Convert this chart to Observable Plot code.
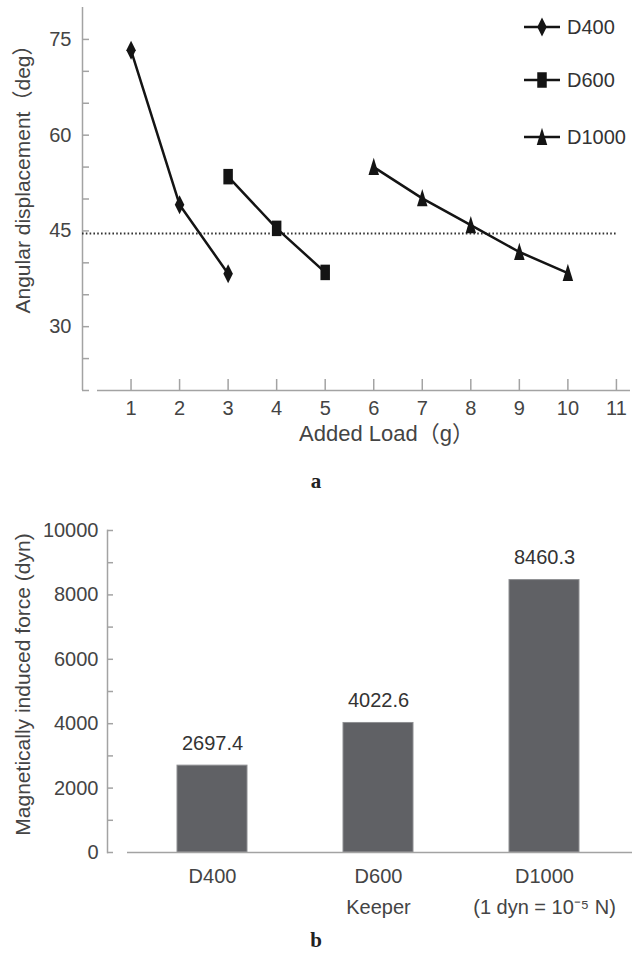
<!DOCTYPE html>
<html>
<head>
<meta charset="utf-8">
<script src="https://cdn.jsdelivr.net/npm/d3@7"></script>
<script src="https://cdn.jsdelivr.net/npm/@observablehq/plot@0.6"></script>
<style>
  html, body { margin: 0; padding: 0; background: #fff; }
  #page { position: relative; width: 632px; height: 961px; background: #fff; overflow: hidden; }
  .cap { position: absolute; left: 0; width: 632px; text-align: center; font: bold 21px "Liberation Serif", "Times New Roman", serif; color: #222; line-height: 22px; }
</style>
</head>
<body>
<div id="page">
  <div id="topChart" style="position:absolute;left:0;top:0"></div>
  <div id="legend" style="position:absolute;left:0;top:0"></div>
  <div class="cap" style="top:470px">a</div>
  <div id="bottomChart" style="position:absolute;left:0;top:500px"></div>
  <div class="cap" style="top:929px">b</div>
</div>
<script>
// ---------- data: panel a ----------
const seriesNames = ["D400", "D600", "D1000"];
const loadsD400 = [1, 2, 3];
const dispD400 = [73.3, 49.1, 38.3];
const loadsD600 = [3, 4, 5];
const dispD600 = [53.5, 45.4, 38.5];
const loadsD1000 = [6, 7, 8, 9, 10];
const dispD1000 = [55.0, 50.1, 45.9, 41.7, 38.4];
const thresholdDeg = 44.6;
const thresholdSpan = [0, 11];
const loadTicks = [1, 2, 3, 4, 5, 6, 7, 8, 9, 10, 11];
const dispTickLabels = [30, 45, 60, 75];
const dispTickMarks = [20, 25, 30, 35, 40, 45, 50, 55, 60, 65, 70, 75];

// ---------- data: panel b ----------
const magnets = ["D400", "D600", "D1000"];
const forces = [2697.4, 4022.6, 8460.3];
const forceLabels = ["2697.4", "4022.6", "8460.3"];
const magnetSublabels = ["", "Keeper", "(1 dyn = 10\u207B\u2075 N)"];
const forceTickLabels = [0, 2000, 4000, 6000, 8000, 10000];
const forceTickMarks = [0, 1000, 2000, 3000, 4000, 5000, 6000, 7000, 8000, 9000, 10000];

// ---------- styling ----------
const FONT = '"Liberation Sans", Arial, "Noto Sans CJK SC", sans-serif';
const AXIS = "#a3a3a3";
const TEXT = "#444";
const INK = "#141414";

// tall marker shapes
const tallDiamond = { draw(ctx, size) { const r = Math.sqrt(size / Math.PI);
  ctx.moveTo(0, -1.9 * r); ctx.lineTo(0.95 * r, 0); ctx.lineTo(0, 1.9 * r); ctx.lineTo(-0.95 * r, 0); ctx.closePath(); } };
const tallSquare = { draw(ctx, size) { const r = Math.sqrt(size / Math.PI);
  ctx.rect(-0.95 * r, -1.55 * r, 1.9 * r, 3.1 * r); } };
const tallTriangle = { draw(ctx, size) { const r = Math.sqrt(size / Math.PI);
  ctx.moveTo(0, -1.85 * r); ctx.lineTo(1.05 * r, 1.6 * r); ctx.lineTo(-1.05 * r, 1.6 * r); ctx.closePath(); } };
const symbolOf = {D400: tallDiamond, D600: tallSquare, D1000: tallTriangle};

const rows = [
  ...loadsD400.map((x, i) => ({series: "D400", load: x, disp: dispD400[i]})),
  ...loadsD600.map((x, i) => ({series: "D600", load: x, disp: dispD600[i]})),
  ...loadsD1000.map((x, i) => ({series: "D1000", load: x, disp: dispD1000[i]}))
];

// ---------- panel a ----------
const A = {w: 632, h: 455, ml: 82, mr: 2, mt: 7, mb: 65};
const aInnerW = A.w - A.ml - A.mr, aInnerH = A.h - A.mt - A.mb;
const topPlot = Plot.plot({
  width: A.w, height: A.h,
  marginLeft: A.ml, marginRight: A.mr, marginTop: A.mt, marginBottom: A.mb,
  style: {fontFamily: FONT, fontSize: "20px", color: TEXT, background: "transparent", overflow: "visible"},
  x: {domain: [0, 11.29], axis: null},
  y: {domain: [20, 80], axis: null},
  marks: [
    Plot.ruleX([0], {stroke: AXIS, strokeWidth: 1.5}),
    Plot.ruleY([20], {stroke: AXIS, strokeWidth: 1.5, insetLeft: 15}),
    Plot.tickX(loadTicks, {x: d => d, stroke: AXIS, strokeWidth: 1.5, insetTop: aInnerH - 11}),
    Plot.tickY(dispTickMarks, {y: d => d, stroke: AXIS, strokeWidth: 1.5, insetRight: aInnerW - 7}),
    Plot.axisX({ticks: loadTicks, tickSize: 0, tickPadding: 10, tickFormat: d => String(d), label: null, fill: TEXT, fontSize: 20}),
    Plot.axisY({ticks: dispTickLabels, tickSize: 0, tickPadding: 11, tickFormat: d => String(d), label: null, fill: TEXT, fontSize: 20}),
    Plot.ruleY([thresholdDeg], {x1: thresholdSpan[0], x2: thresholdSpan[1], stroke: "#333", strokeWidth: 2, strokeDasharray: "1.6,2.2"}),
    Plot.line(rows, {x: "load", y: "disp", z: "series", stroke: INK, strokeWidth: 2.5}),
    ...seriesNames.map(s => Plot.dot(rows.filter(d => d.series === s), {x: "load", y: "disp", r: 5, fill: INK, stroke: "none", symbol: symbolOf[s]})),
    Plot.text(["Added Load\uFF08g\uFF09"], {frameAnchor: "bottom", dx: 30, dy: 50, fill: TEXT, fontSize: 22}),
    Plot.text(["Angular displacement\uFF08deg\uFF09"], {frameAnchor: "left", textAnchor: "middle", rotate: -90, dx: -59, dy: -25, fill: TEXT, fontSize: 21})
  ]
});
document.getElementById("topChart").appendChild(topPlot);

// legend (overlay)
const legendRows = [27, 80, 137];
const leg = d3.select("#legend").append("svg").attr("width", 632).attr("height", 170)
  .style("font-family", FONT).style("font-size", "20px");
seriesNames.forEach((s, i) => {
  const g = leg.append("g").attr("transform", `translate(524,${legendRows[i]})`);
  g.append("line").attr("x1", 0).attr("x2", 36).attr("stroke", INK).attr("stroke-width", 2.5);
  g.append("path").attr("transform", "translate(18,0)").attr("fill", INK)
    .attr("d", d3.symbol(symbolOf[s], Math.PI * 25)());
  g.append("text").attr("x", 43).attr("dy", "0.35em").attr("fill", "#333").text(s);
});

// ---------- panel b ----------
const bars = magnets.map((m, i) => ({magnet: m, force: forces[i], label: forceLabels[i], sub: magnetSublabels[i]}));
const B = {w: 632, h: 440, ml: 107, mr: 0, mt: 30, mb: 88};
const bInnerW = B.w - B.ml - B.mr;
const bottomPlot = Plot.plot({
  width: B.w, height: B.h,
  marginLeft: B.ml, marginRight: B.mr, marginTop: B.mt, marginBottom: B.mb,
  style: {fontFamily: FONT, fontSize: "20px", color: TEXT, background: "transparent", overflow: "visible"},
  x: {domain: magnets, insetLeft: 16, paddingInner: 0.58, paddingOuter: 0.32, axis: null},
  y: {domain: [0, 10000], axis: null},
  marks: [
    Plot.barY(bars, {x: "magnet", y: "force", fill: "#606165", stroke: "#8e8f92", strokeWidth: 1}),
    Plot.frame({anchor: "left", stroke: AXIS, strokeWidth: 1.5}),
    Plot.ruleY([0], {stroke: AXIS, strokeWidth: 1.5, insetLeft: 20}),
    Plot.tickY(forceTickMarks, {y: d => d, stroke: AXIS, strokeWidth: 1.5, insetRight: bInnerW - 6}),
    Plot.axisY({ticks: forceTickLabels, tickSize: 0, tickPadding: 9, tickFormat: d => String(d), label: null, fill: TEXT, fontSize: 20}),
    Plot.text(bars, {x: "magnet", y: "force", text: "label", dy: -22, fill: "#333", fontSize: 20}),
    Plot.text(bars, {x: "magnet", text: "magnet", frameAnchor: "bottom", dy: 30, fill: TEXT, fontSize: 20}),
    Plot.text(bars, {x: "magnet", text: "sub", frameAnchor: "bottom", dy: 61, fill: TEXT, fontSize: 20}),
    Plot.text(["Magnetically induced force (dyn)"], {frameAnchor: "left", textAnchor: "middle", rotate: -90, dx: -84, dy: -7, fill: TEXT, fontSize: 21})
  ]
});
document.getElementById("bottomChart").appendChild(bottomPlot);
</script>
</body>
</html>
